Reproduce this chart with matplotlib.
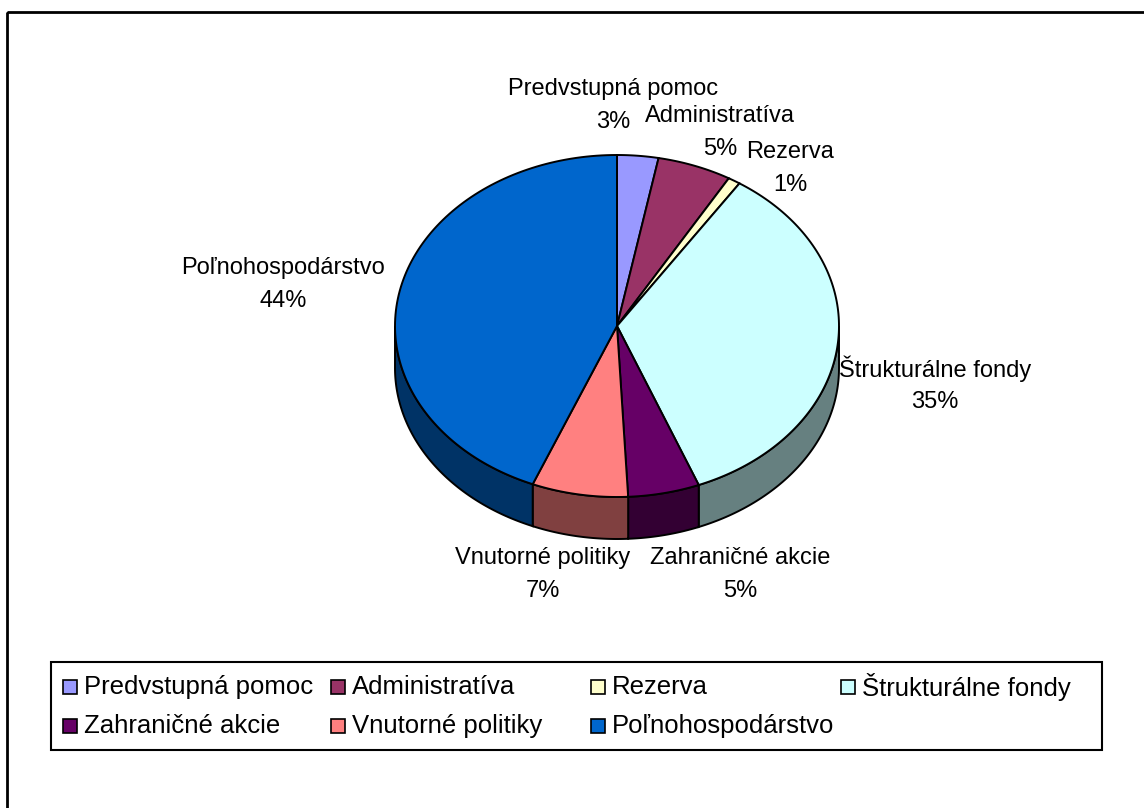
import numpy as np
import matplotlib
matplotlib.use("Agg")
import matplotlib.pyplot as plt
from matplotlib.patches import Polygon, Rectangle

plt.rcParams['font.family'] = ['Liberation Sans', 'DejaVu Sans']

# data
categories = ["Predvstupná pomoc", "Administratíva", "Rezerva", "Štrukturálne fondy",
              "Zahraničné akcie", "Vnutorné politiky", "Poľnohospodárstvo"]
values = [3.0, 5.4, 0.9, 34.7, 5.2, 7.0, 43.8]
colors = ["#9999FF", "#993366", "#FFFFCC", "#CCFFFF", "#660066", "#FF8080", "#0066CC"]
pct_labels = ["3%", "5%", "1%", "35%", "5%", "7%", "44%"]

# where the data labels sit (pixels, centre of the two-line block)
label_xy = [(613, 105), (720, 132), (790, 168), (935, 385),
            (740, 574), (543, 574), (283, 284)]

W, H = 1144, 808
fig = plt.figure(figsize=(W / 100, H / 100), dpi=100)
ax = fig.add_axes([0, 0, 1, 1])
ax.set_xlim(0, W)
ax.set_ylim(H, 0)
ax.axis("off")

# outer frame
ax.add_patch(Rectangle((7, 12), W, H, fill=False, lw=2, ec="black"))

cx, cy, rx, ry, depth = 617, 326, 222, 171, 42


def pt(phi, dy=0):
    # phi measured clockwise from top, in degrees
    p = np.radians(phi)
    return cx + rx * np.sin(p), cy - ry * np.cos(p) + dy


def shade(c, f=0.5):
    r, g, b = matplotlib.colors.to_rgb(c)
    return (r * f, g * f, b * f)


fracs = np.array(values) / sum(values)
bounds = np.concatenate([[0], np.cumsum(fracs) * 360])

# side walls (only visible front part, 90..270)
for i, c in enumerate(colors):
    a0, a1 = max(bounds[i], 90), min(bounds[i + 1], 270)
    if a1 <= a0:
        continue
    ang = np.linspace(a0, a1, 80)
    top = [pt(a) for a in ang]
    bot = [pt(a, depth) for a in ang[::-1]]
    ax.add_patch(Polygon(top + bot, closed=True, fc=shade(c), ec="black", lw=1.4, zorder=2))

# top faces
for i, c in enumerate(colors):
    ang = np.linspace(bounds[i], bounds[i + 1], 120)
    verts = [(cx, cy)] + [pt(a) for a in ang]
    ax.add_patch(Polygon(verts, closed=True, fc=c, ec="black", lw=1.4, zorder=3))

# data labels: name on top, percentage below
for i, name in enumerate(categories):
    x, y = label_xy[i]
    ax.text(x, y - 16, name, ha="center", va="center", fontsize=17, zorder=5)
    ax.text(x, y + 17, pct_labels[i], ha="center", va="center", fontsize=17, zorder=5)

# legend
lx0, ly0, lx1, ly1 = 51, 662, 1102, 750
ax.add_patch(Rectangle((lx0, ly0), lx1 - lx0, ly1 - ly0, fill=False, ec="black", lw=1.5))
col_x = [63, 331, 591, 841]
row_y = [687, 726]
for i, name in enumerate(categories):
    r, k = divmod(i, 4)
    x, y = col_x[k], row_y[r]
    ax.add_patch(Rectangle((x, y - 7), 14, 14, fc=colors[i], ec="black", lw=1.2))
    ax.text(x + 21, y, name, ha="left", va="center", fontsize=18.5)

fig.savefig("out.png", dpi=100)
